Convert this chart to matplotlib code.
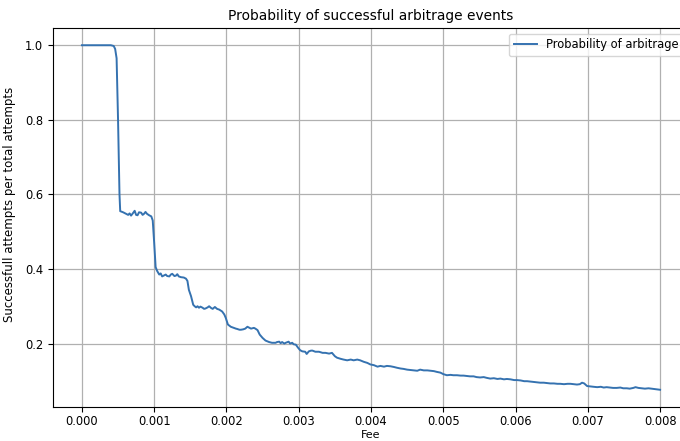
import matplotlib
matplotlib.use("Agg")
import matplotlib.pyplot as plt

fee = [0.0, 0.0001, 0.0002, 0.0003, 0.0004, 0.00044, 0.00046, 0.00048, 0.0005, 0.00052,
       0.00053, 0.00057, 0.00061, 0.00064, 0.00066, 0.00068, 0.0007, 0.00073, 0.00075, 0.00077,
       0.00079, 0.00082, 0.00084, 0.00086, 0.00088, 0.0009, 0.00093, 0.00096, 0.00098, 0.001,
       0.00102, 0.00104, 0.00107, 0.00109, 0.00111, 0.00113, 0.00116, 0.00118, 0.00121, 0.00123,
       0.00125, 0.00128, 0.0013, 0.00132, 0.00134, 0.00137, 0.00141, 0.00144, 0.00146, 0.00148,
       0.00151, 0.00154, 0.00156, 0.00158, 0.0016, 0.00162, 0.00164, 0.00167, 0.00169, 0.00171,
       0.00174, 0.00176, 0.00179, 0.00181, 0.00184, 0.00187, 0.0019, 0.00194, 0.00197, 0.00199,
       0.00202, 0.00206, 0.0021, 0.00213, 0.00215, 0.00218, 0.0022, 0.00223, 0.00226, 0.00229,
       0.00231, 0.00234, 0.00238, 0.0024, 0.00243, 0.00246, 0.0025, 0.00254, 0.00259, 0.00263,
       0.00268, 0.0027, 0.00273, 0.00275, 0.00277, 0.0028, 0.00282, 0.00286, 0.00288, 0.00291,
       0.00293, 0.00296, 0.00299, 0.00302, 0.00305, 0.00309, 0.00311, 0.00314, 0.00317, 0.00319,
       0.00323, 0.00328, 0.00333, 0.00337, 0.00342, 0.00346, 0.0035, 0.00353, 0.00358, 0.00362,
       0.00367, 0.00372, 0.00376, 0.00381, 0.00385, 0.0039, 0.00395, 0.00399, 0.00404, 0.00409,
       0.00413, 0.00418, 0.00422, 0.00427, 0.00432, 0.00436, 0.00441, 0.00445, 0.0045, 0.00455,
       0.00459, 0.00464, 0.00468, 0.00473, 0.00478, 0.00482, 0.00487, 0.00491, 0.00496, 0.005,
       0.00505, 0.0051, 0.00514, 0.00519, 0.00524, 0.00528, 0.00533, 0.00537, 0.00542, 0.00546,
       0.00551, 0.00556, 0.0056, 0.00565, 0.0057, 0.00575, 0.00579, 0.00584, 0.00588, 0.00593,
       0.00598, 0.00602, 0.00607, 0.00612, 0.00616, 0.0062, 0.00625, 0.0063, 0.00634, 0.00639,
       0.00644, 0.00648, 0.00653, 0.00658, 0.00662, 0.00667, 0.00672, 0.00676, 0.0068, 0.00685,
       0.00689, 0.00692, 0.00695, 0.00699, 0.00703, 0.00708, 0.00713, 0.00718, 0.00722, 0.00726,
       0.00731, 0.00735, 0.0074, 0.00745, 0.00749, 0.00754, 0.00758, 0.00763, 0.00766, 0.0077,
       0.00774, 0.00779, 0.00784, 0.00788, 0.00793, 0.00797, 0.008]

probability = [1.0, 1.0, 1.0, 1.0, 1.0, 0.998, 0.99, 0.965, 0.80, 0.60,
               0.555, 0.552, 0.548, 0.545, 0.549, 0.543, 0.548, 0.556, 0.545, 0.544,
               0.552, 0.551, 0.545, 0.548, 0.553, 0.548, 0.544, 0.541, 0.53, 0.47,
               0.405, 0.395, 0.385, 0.388, 0.380, 0.382, 0.385, 0.381, 0.380, 0.385,
               0.387, 0.381, 0.382, 0.386, 0.380, 0.378, 0.377, 0.374, 0.368, 0.344,
               0.327, 0.304, 0.300, 0.297, 0.300, 0.296, 0.299, 0.296, 0.293, 0.294,
               0.297, 0.300, 0.295, 0.293, 0.298, 0.293, 0.291, 0.286, 0.278, 0.269,
               0.251, 0.245, 0.242, 0.240, 0.239, 0.237, 0.237, 0.238, 0.240, 0.245,
               0.243, 0.240, 0.242, 0.240, 0.236, 0.224, 0.215, 0.208, 0.204, 0.202,
               0.202, 0.204, 0.205, 0.201, 0.204, 0.200, 0.202, 0.205, 0.200, 0.202,
               0.198, 0.197, 0.189, 0.182, 0.179, 0.178, 0.172, 0.179, 0.181, 0.181,
               0.178, 0.178, 0.175, 0.175, 0.173, 0.175, 0.166, 0.162, 0.159, 0.157,
               0.155, 0.157, 0.155, 0.157, 0.155, 0.151, 0.148, 0.144, 0.142, 0.138,
               0.140, 0.138, 0.140, 0.139, 0.137, 0.135, 0.133, 0.132, 0.130, 0.129,
               0.128, 0.127, 0.130, 0.128, 0.128, 0.127, 0.126, 0.124, 0.122, 0.118,
               0.115, 0.116, 0.115, 0.115, 0.114, 0.114, 0.113, 0.112, 0.112, 0.110,
               0.109, 0.110, 0.108, 0.106, 0.107, 0.105, 0.106, 0.104, 0.105, 0.104,
               0.102, 0.102, 0.101, 0.099, 0.099, 0.098, 0.097, 0.096, 0.095, 0.095,
               0.094, 0.093, 0.093, 0.092, 0.092, 0.091, 0.092, 0.092, 0.091, 0.090,
               0.091, 0.095, 0.093, 0.086, 0.085, 0.084, 0.083, 0.084, 0.082, 0.083,
               0.082, 0.081, 0.081, 0.082, 0.080, 0.080, 0.079, 0.081, 0.083, 0.081,
               0.080, 0.079, 0.080, 0.079, 0.078, 0.077, 0.076]

title = "Probability of successful arbitrage events"
xlabel = "Fee"
ylabel = "Successfull attempts per total attempts"
series_label = "Probability of arbitrage"

fig = plt.figure(figsize=(6.8, 4.41), dpi=100)
W, H = 680, 441
ax = fig.add_axes([53 / W, (H - 407) / H, (689 - 53) / W, (407 - 28) / H])

ax.plot(fee, probability, color="#3572b0", linewidth=1.4, label=series_label)
ax.grid(True, color="#b0b0b0", linewidth=0.9)
ax.set_axisbelow(True)
ax.set_xticks([0.0, 0.001, 0.002, 0.003, 0.004, 0.005, 0.006, 0.007, 0.008])
ax.set_yticks([0.2, 0.4, 0.6, 0.8, 1.0])
ax.tick_params(labelsize=8.3)
ax.tick_params(axis="x", pad=2.5)
ax.set_xlabel(xlabel, fontsize=8)
ax.xaxis.set_label_coords(0.5, -0.06)
ax.set_ylabel(ylabel, fontsize=8.5)
ax.yaxis.set_label_coords(-0.058, 0.535)
ax.set_title(title, fontsize=9.9)
ax.legend(loc="upper right", fontsize=8.3)

fig.savefig("out.png", dpi=100)
